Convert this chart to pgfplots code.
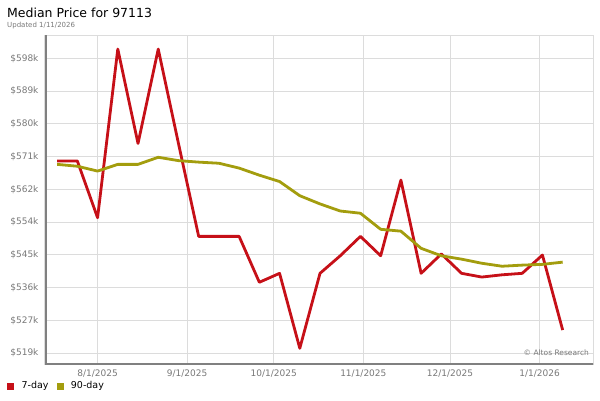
\documentclass[border=0pt]{standalone}
\usepackage{fontspec}
\setmainfont{DejaVu Sans}
\usepackage{pgfplots}
\pgfplotsset{compat=1.18}
\definecolor{redline}{RGB}{198,16,24}
\definecolor{olive}{RGB}{163,157,14}
\definecolor{gridgray}{RGB}{220,220,220}
\definecolor{axisgray}{RGB}{128,128,128}
\definecolor{labgray}{RGB}{120,120,120}
\begin{document}
\begin{tikzpicture}[x=1pt,y=1pt]
\useasboundingbox (0,0) rectangle (600,400);
\node[anchor=base west, inner sep=0pt, font=\fontsize{12.5}{14}\selectfont] at (7,382) {Median Price for 97113};
\node[anchor=base west, inner sep=0pt, font=\fontsize{7}{8}\selectfont, text=labgray] at (7,372) {Updated 1/11/2026};
\begin{axis}[
  at={(45pt,36pt)}, anchor=south west,
  scale only axis, width=548pt, height=328pt,
  xmin=-18.2, xmax=171.5,
  ymin=516.3, ymax=604.2,
  xtick={0,31,61,92,122,153},
  xticklabels={8/1/2025,9/1/2025,10/1/2025,11/1/2025,12/1/2025,1/1/2026},
  ytick={519.2,527.98,536.76,545.54,554.32,563.1,571.88,580.66,589.44,598.22},
  yticklabels={\$519k,\$527k,\$536k,\$545k,\$554k,\$562k,\$571k,\$580k,\$589k,\$598k},
  major tick length=0pt,
  grid=major,
  grid style={draw=gridgray, line width=1pt},
  axis line style={draw=gridgray, line width=1pt},
  tick label style={font=\fontsize{9}{10}\selectfont, text=labgray},
  /pgf/number format/assume math mode=true,
  yticklabel style={xshift=-3pt},
  xticklabel style={yshift=-2pt},
  legend columns=2,
  legend style={at={(rel axis cs:-0.073,-0.067)}, anchor=west, draw=none, fill=none,
    font=\fontsize{9.5}{11}\selectfont, inner sep=0pt,
    /tikz/every even column/.append style={column sep=4pt}},
  legend image code/.code={\path (0pt,0pt) (14pt,0pt); \fill[#1] (2pt,-3pt) rectangle (8pt,3pt);},
]
\addplot[color=redline, line width=2.8pt, line join=round, forget plot] coordinates {
(-14,570.7) (-7,570.7) (0,555.5) (7,600.7) (14,575.4) (21,600.7) (28,575.4)
(35,550.5) (42,550.5) (49,550.5) (56,538.2) (63,540.6) (70,520.5) (77,540.6)
(84,545.3) (91,550.5) (98,545.3) (105,565.6) (112,540.6) (119,545.8) (126,540.6)
(133,539.6) (140,540.2) (147,540.6) (154,545.5) (161,525.4)
};
\addplot[color=olive, line width=2.8pt, line join=round, forget plot] coordinates {
(-14,569.8) (-7,569.3) (0,568.0) (7,569.8) (14,569.8) (21,571.7) (28,570.8)
(35,570.4) (42,570.1) (49,568.8) (56,566.9) (63,565.2) (70,561.4) (77,559.2)
(84,557.3) (91,556.7) (98,552.4) (105,551.9) (112,547.3) (119,545.3) (126,544.4)
(133,543.3) (140,542.5) (147,542.8) (154,543.0) (161,543.6)
};
\addlegendimage{color=redline}
\addlegendentry{7-day}
\addlegendimage{color=olive}
\addlegendentry{90-day}
\draw[axisgray, line width=3pt] (rel axis cs:0,1.01) -- (rel axis cs:0,0) -- (rel axis cs:1.004,0);
\node[anchor=east, inner sep=0pt, font=\fontsize{7.5}{8}\selectfont, text=labgray] at (rel axis cs:0.993,0.033) {© Altos Research};
\end{axis}
\end{tikzpicture}
\end{document}
